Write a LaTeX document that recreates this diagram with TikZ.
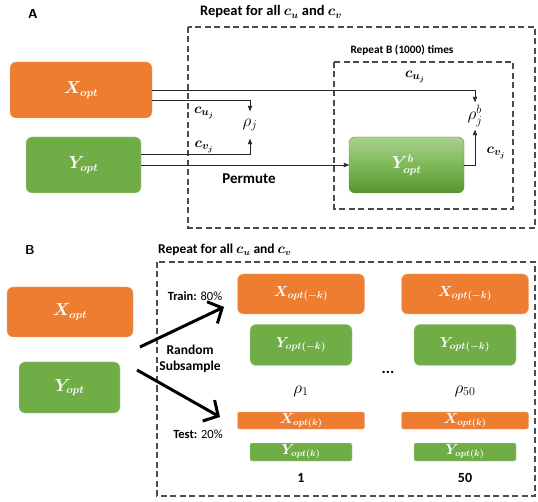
\documentclass[tikz,border=0pt]{standalone}
\usepackage{amsmath}
\usepackage{bm}
\usepackage{fontspec}
\setmainfont{Carlito}
\usetikzlibrary{arrows,arrows.meta,positioning}
\definecolor{optorange}{HTML}{ED7D31}
\definecolor{optgreen}{HTML}{70AD47}
\definecolor{ybtop}{HTML}{A9D18E}
\definecolor{ybmid}{HTML}{7DB956}
\definecolor{ybbot}{HTML}{5A9434}
\tikzset{
	databox/.style = {rounded corners=6pt, text=white, align=center,
		inner sep=0pt, font=\fontsize{16}{18}\selectfont},
	xbox/.style = {databox, fill=optorange, draw=optorange!60},
	ybox/.style = {databox, fill=optgreen, draw=optgreen!60},
	ybbox/.style = {databox, top color=ybtop, bottom color=ybbot,
		middle color=ybmid, draw=ybbot},
	midbox/.style = {font=\fontsize{14}{16}\selectfont},
	thinbox/.style = {font=\fontsize{13.5}{14}\selectfont, rounded corners=2pt},
	loopbox/.style = {draw=black!70, line width=1.1pt, dash pattern=on 6pt off 3.5pt},
	title/.style = {font=\fontsize{14.5}{16}\selectfont\bfseries, inner sep=0pt},
	panel/.style = {font=\fontsize{13}{15}\selectfont\bfseries\sffamily},
	rho/.style = {inner sep=0pt, minimum height=28pt, font=\fontsize{18}{20}\selectfont},
	lbl/.style = {inner sep=0pt, font=\fontsize{15}{17}\selectfont},
	link/.style = {->, draw=black!85, line width=0.9pt},
	bigarrow/.style = {-{Straight Barb[length=11pt,width=24pt]}, line width=3pt, black}
}
\begin{document}
\begin{tikzpicture}[x=1pt,y=-1pt,>=stealth']
\useasboundingbox (0,0) rectangle (538,502);
% A
\node[panel] (pa) at (33,14) {A};
\node[title] (ta) at (271,12) {Repeat for all $\bm{c_u}$ and $\bm{c_v}$};
\draw[loopbox] (188,27) rectangle (535,228);
\draw[loopbox] (334,62) rectangle (513,209);
\node[title, font=\fontsize{11.3}{13}\selectfont\bfseries] (tb) at (402,50) {Repeat B (1000) times};
\node[xbox, minimum width=142pt, minimum height=56pt] (xa) at (81,90) {$\bm{X_{opt}}$};
\node[ybox, minimum width=115pt, minimum height=56pt] (ya) at (83.5,165) {$\bm{Y_{opt}}$};
\node[ybbox, minimum width=115pt, minimum height=56pt] (yb) at (406.5,165) {$\bm{Y^b_{opt}}$};
\node[rho] (rhoj) at (250,125) {$\rho_j$};
\node[rho] (rhob) at (475,116) {$\rho^b_j$};
\draw[link] (xa.east) -| (rhob.north);
\draw[link] ([yshift=-10pt]xa.east) -| (rhoj.north);
\draw[link] ([yshift=11pt]ya.east) -| (rhoj.south);
\draw[link] (ya.east) -- (yb.west);
\draw[link] (yb.east) -| (rhob.south);
\node[lbl] (cu1) at (204,113) {$\bm{c_{u_j}}$};
\node[lbl] (cv1) at (204,147) {$\bm{c_{v_j}}$};
\node[lbl] (cu2) at (415,77) {$\bm{c_{u_j}}$};
\node[lbl] (cv2) at (496,153) {$\bm{c_{v_j}}$};
\node[title, font=\fontsize{15}{17}\selectfont\bfseries] (perm) at (249,179) {Permute};
% B
\node[panel] (pb) at (30,250) {B};
\node[title, anchor=west, font=\fontsize{13.5}{15}\selectfont\bfseries] (tc) at (158,250) {Repeat for all $\bm{c_u}$ and $\bm{c_v}$};
\draw[loopbox] (157,262) rectangle (535,496);
\node[xbox, minimum width=126pt, minimum height=50pt] (xb) at (70,312) {$\bm{X_{opt}}$};
\node[ybox, minimum width=101pt, minimum height=51pt] (yb2) at (69.5,387.5) {$\bm{Y_{opt}}$};
\foreach \i/\xc/\nm in {1/301/1, 2/465/50} {
	\node[xbox, midbox, minimum width=127pt, minimum height=40pt] (xtr\i) at (\xc,294) {$\bm{X_{opt(-k)}}$};
	\node[ybox, midbox, minimum width=102pt, minimum height=41pt] (ytr\i) at (\xc,345) {$\bm{Y_{opt(-k)}}$};
	\node[rho, minimum height=0pt, font=\fontsize{17}{19}\selectfont] (rho\i) at (\xc,391) {$\rho_{\nm}$};
	\node[xbox, thinbox, minimum width=127pt, minimum height=17pt] (xte\i) at (\xc,420.5) {$\bm{X_{opt(k)}}$};
	\node[ybox, thinbox, minimum width=102pt, minimum height=18pt] (yte\i) at (\xc,452) {$\bm{Y_{opt(k)}}$};
	\node[title, font=\fontsize{14}{16}\selectfont\bfseries] (n\i) at (\xc,478) {\nm};
}
\node[title, font=\fontsize{16}{16}\selectfont\bfseries] (dots) at (388,372) {...};
\coordinate (trs) at (140,347);
\coordinate (tre) at (224,307);
\coordinate (tes) at (137,370);
\coordinate (tee) at (220,417);
\draw[bigarrow] (trs) -- (tre);
\draw[bigarrow] (tes) -- (tee);
\node[lbl, font=\fontsize{12.5}{14}\selectfont] (train) at (195,296) {\textbf{Train:} 80\%};
\node[lbl, font=\fontsize{13.5}{15.5}\selectfont\bfseries, align=center] (rs) at (190,359) {Random\\Subsample};
\node[lbl, font=\fontsize{12.5}{14}\selectfont] (test) at (198,434) {\textbf{Test:} 20\%};
\end{tikzpicture}
\end{document}
